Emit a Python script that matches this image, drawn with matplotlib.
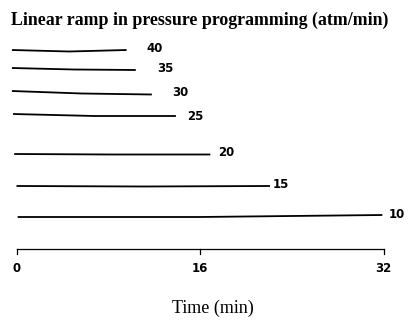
import matplotlib
matplotlib.use("Agg")
import matplotlib.pyplot as plt

# Data
ramp_rates = ["40", "35", "30", "25", "20", "15", "10"]          # atm/min
start_time = [-0.4, -0.4, -0.4, -0.3, -0.2, 0.0, 0.1]             # min
end_time = [9.6, 10.4, 11.8, 13.9, 16.9, 22.1, 31.9]              # min
# small baseline drift (start, middle, end), in pixel-like units
drift_start = [0.0, 0.0, 0.0, 0.0, 0.0, 0.0, 0.0]
drift_mid = [1.5, 1.5, 2.5, 2.0, 0.5, 0.5, 0.0]
drift_end = [0.0, 2.0, 3.5, 2.0, 0.5, 0.0, -2.0]
tick_values = [0, 16, 32]
tick_labels = ["0", "16", "32"]

# layout: vertical placement of each trace (figure pixel rows) and label placement
baseline_y = [50, 68, 91, 114, 154, 186, 217]
label_y = [48, 68, 92, 116, 153, 184, 214]
label_gap_px = [20, 21, 20, 11, 8, 3, 6]
axis_y = 249

W, H = 408, 321
fig = plt.figure(figsize=(W / 100, H / 100), dpi=100)
x0_px, x1_px = 16.5, 383.5
ax = fig.add_axes([x0_px / W, 0, (x1_px - x0_px) / W, 1])
ax.set_xlim(0, 32)
ax.set_ylim(H, 0)
ax.axis("off")

for i, rate in enumerate(ramp_rates):
    t0, t1 = start_time[i], end_time[i]
    xs = [t0, (t0 + t1) / 2, t1]
    yb = baseline_y[i]
    ys = [yb + drift_start[i], yb + drift_mid[i], yb + drift_end[i]]
    ax.plot(xs, ys, color="black", lw=1.3, solid_capstyle="butt", clip_on=False)
    ax.annotate(rate, xy=(t1, label_y[i]), xytext=(label_gap_px[i] * 0.72, 0),
                textcoords="offset points", ha="left", va="center",
                fontsize=8.5, fontweight="bold", family="DejaVu Sans")

# time axis
ax.plot([0, 32], [axis_y, axis_y], color="black", lw=0.9, clip_on=False)
for v, lab in zip(tick_values, tick_labels):
    ax.plot([v, v], [axis_y, axis_y + 5], color="black", lw=0.9, clip_on=False)
    ax.text(v, axis_y + 19, lab, ha="center", va="center", fontsize=8.5,
            fontweight="bold", family="DejaVu Sans")

fig.text(11 / W, 1 - 20 / H, "Linear ramp in pressure programming (atm/min)",
         ha="left", va="center", fontsize=12.9, fontweight="bold",
         family="Liberation Serif")
fig.text(213 / W, 1 - 308 / H, "Time (min)", ha="center", va="center",
         fontsize=13, family="Liberation Serif")

fig.savefig("out.png", dpi=100)
